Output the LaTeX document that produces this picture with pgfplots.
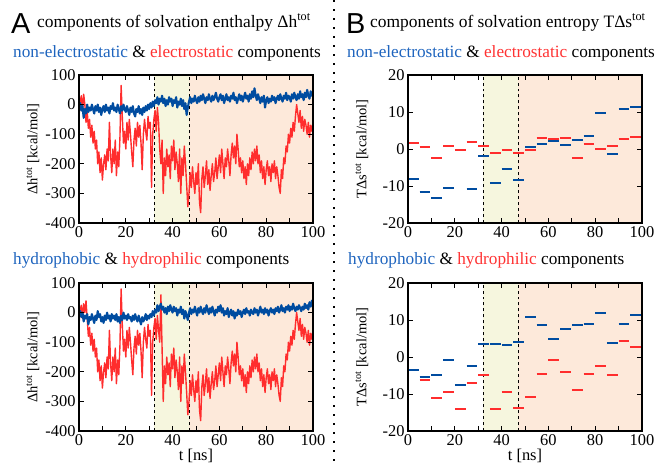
\documentclass[border=0pt]{standalone}
\usepackage{pgfplots}
\pgfplotsset{compat=1.18}
\usepackage{pgfplotstable}
\usepackage{fontspec}
\setmainfont{Liberation Serif}
\setsansfont{Liberation Sans}
\definecolor{redline}{RGB}{255,45,45}
\definecolor{blueline}{RGB}{0,76,160}
\definecolor{bluetxt}{RGB}{30,100,190}
\definecolor{redtxt}{RGB}{255,50,50}
\definecolor{ybg}{RGB}{246,246,222}
\definecolor{obg}{RGB}{253,233,218}

\pgfplotstableread[row sep=\\]{
t v\\
0 -40\\ 0.5 10\\ 1 30\\ 1.5 -20\\ 2 35\\ 2.5 0\\ 3 -60\\ 3.5 -20\\ 4 -80\\ 4.5 -50\\
5 -110\\ 5.5 -70\\ 6 -130\\ 6.5 -90\\ 7 -150\\ 7.5 -120\\ 8 -200\\ 8.5 -160\\ 9 -230\\ 9.5 -180\\
10 -255\\ 10.5 -200\\ 11 -170\\ 11.5 -220\\ 12 -150\\ 12.5 -190\\ 13 -60\\ 13.5 -170\\ 14 -230\\ 14.5 -150\\
15 -200\\ 15.5 -120\\ 16 -240\\ 16.5 -160\\ 17 -210\\ 17.5 -110\\ 18 65\\ 18.5 -40\\ 19 -130\\ 19.5 -90\\
20 -150\\ 20.5 -60\\ 21 -120\\ 21.5 -50\\ 22 -100\\ 22.5 -160\\ 23 -210\\ 23.5 -120\\ 24 -80\\ 24.5 -140\\
25 -60\\ 25.5 -110\\ 26 -70\\ 26.5 -130\\ 27 -220\\ 27.5 -100\\ 28 -50\\ 28.5 -90\\ 29 -120\\ 29.5 -40\\
30 -80\\ 30.5 -60\\ 31 -280\\ 31.5 -100\\ 32 -50\\ 32.5 -20\\ 33 -90\\ 33.5 -10\\ 34 -60\\ 34.5 -150\\
35 -200\\ 35.5 -120\\ 36 -300\\ 36.5 -180\\ 37 -240\\ 37.5 -150\\ 38 -210\\ 38.5 -170\\ 39 -250\\ 39.5 -140\\
40 -190\\ 40.5 -120\\ 41 -220\\ 41.5 -160\\ 42 -200\\ 42.5 -260\\ 43 -150\\ 43.5 -300\\ 44 -180\\ 44.5 -240\\
45 -140\\ 45.5 -200\\ 46 -270\\ 46.5 -345\\ 47 -300\\ 47.5 -230\\ 48 -280\\ 48.5 -210\\ 49 -260\\ 49.5 -300\\
50 -230\\ 50.5 -270\\ 51 -200\\ 51.5 -330\\ 52 -365\\ 52.5 -250\\ 53 -210\\ 53.5 -280\\ 54 -240\\ 54.5 -190\\
55 -270\\ 55.5 -220\\ 56 -290\\ 56.5 -240\\ 57 -200\\ 57.5 -260\\ 58 -230\\ 58.5 -180\\ 59 -250\\ 59.5 -210\\
60 -170\\ 60.5 -230\\ 61 -150\\ 61.5 -200\\ 62 -250\\ 62.5 -180\\ 63 -210\\ 63.5 -150\\ 64 -190\\ 64.5 -240\\
65 -170\\ 65.5 -130\\ 66 -180\\ 66.5 -140\\ 67 -200\\ 67.5 -100\\ 68 -150\\ 68.5 -210\\ 69 -180\\ 69.5 -230\\
70 -190\\ 70.5 -250\\ 71 -210\\ 71.5 -270\\ 72 -200\\ 72.5 -240\\ 73 -180\\ 73.5 -220\\ 74 -160\\ 74.5 -200\\
75 -150\\ 75.5 -190\\ 76 -140\\ 76.5 -200\\ 77 -170\\ 77.5 -230\\ 78 -190\\ 78.5 -250\\ 79 -210\\ 79.5 -270\\
80 -220\\ 80.5 -190\\ 81 -240\\ 81.5 -210\\ 82 -260\\ 82.5 -200\\ 83 -230\\ 83.5 -190\\ 84 -250\\ 84.5 -210\\
85 -240\\ 85.5 -280\\ 86 -300\\ 86.5 -220\\ 87 -250\\ 87.5 -180\\ 88 -200\\ 88.5 -140\\ 89 -160\\ 89.5 -100\\
90 -130\\ 90.5 -80\\ 91 -110\\ 91.5 -60\\ 92 -90\\ 92.5 -40\\ 93 0\\ 93.5 -30\\ 94 -60\\ 94.5 -20\\
95 -80\\ 95.5 -40\\ 96 -90\\ 96.5 -50\\ 97 -70\\ 97.5 -100\\ 98 -60\\ 98.5 -110\\ 99 -70\\ 99.5 -90\\ 100 -60\\
}\redA

\pgfplotstableread[row sep=\\]{
t v\\
0 -40\\ 0.5 10\\ 1 25\\ 1.5 -20\\ 2 30\\ 2.5 0\\ 3 40\\ 3.5 -20\\ 4 -80\\ 4.5 -50\\
5 -110\\ 5.5 -70\\ 6 -130\\ 6.5 -90\\ 7 -150\\ 7.5 -120\\ 8 -200\\ 8.5 -160\\ 9 -230\\ 9.5 -180\\
10 -255\\ 10.5 -200\\ 11 -170\\ 11.5 -220\\ 12 -150\\ 12.5 -190\\ 13 -60\\ 13.5 -170\\ 14 -230\\ 14.5 -150\\
15 -200\\ 15.5 -120\\ 16 -240\\ 16.5 -160\\ 17 -210\\ 17.5 -110\\ 18 80\\ 18.5 -40\\ 19 -130\\ 19.5 -90\\
20 -150\\ 20.5 -60\\ 21 -120\\ 21.5 -50\\ 22 -100\\ 22.5 -160\\ 23 -210\\ 23.5 -120\\ 24 -80\\ 24.5 -140\\
25 -60\\ 25.5 -110\\ 26 -70\\ 26.5 -130\\ 27 -220\\ 27.5 -100\\ 28 -50\\ 28.5 -90\\ 29 -120\\ 29.5 -40\\
30 -80\\ 30.5 -60\\ 31 -280\\ 31.5 -100\\ 32 -50\\ 32.5 -20\\ 33 -90\\ 33.5 -10\\ 34 -60\\ 34.5 -100\\
35 60\\ 35.5 -120\\ 36 -300\\ 36.5 -180\\ 37 -240\\ 37.5 -150\\ 38 -210\\ 38.5 -170\\ 39 -250\\ 39.5 -140\\
40 -190\\ 40.5 -120\\ 41 -220\\ 41.5 -160\\ 42 -200\\ 42.5 -260\\ 43 -150\\ 43.5 -300\\ 44 -180\\ 44.5 -240\\
45 -140\\ 45.5 -200\\ 46 -270\\ 46.5 -345\\ 47 -300\\ 47.5 -230\\ 48 -280\\ 48.5 -210\\ 49 -260\\ 49.5 -300\\
50 -230\\ 50.5 -270\\ 51 -200\\ 51.5 -330\\ 52 -365\\ 52.5 -250\\ 53 -210\\ 53.5 -280\\ 54 -240\\ 54.5 -190\\
55 -270\\ 55.5 -220\\ 56 -290\\ 56.5 -240\\ 57 -200\\ 57.5 -260\\ 58 -230\\ 58.5 -180\\ 59 -250\\ 59.5 -210\\
60 -170\\ 60.5 -230\\ 61 -150\\ 61.5 -200\\ 62 -250\\ 62.5 -180\\ 63 -210\\ 63.5 -150\\ 64 -190\\ 64.5 -240\\
65 -170\\ 65.5 -130\\ 66 -180\\ 66.5 -140\\ 67 -200\\ 67.5 -100\\ 68 -150\\ 68.5 -210\\ 69 -180\\ 69.5 -230\\
70 -190\\ 70.5 -250\\ 71 -210\\ 71.5 -270\\ 72 -200\\ 72.5 -240\\ 73 -180\\ 73.5 -220\\ 74 -160\\ 74.5 -200\\
75 -150\\ 75.5 -190\\ 76 -140\\ 76.5 -200\\ 77 -170\\ 77.5 -230\\ 78 -190\\ 78.5 -250\\ 79 -210\\ 79.5 -270\\
80 -220\\ 80.5 -190\\ 81 -240\\ 81.5 -210\\ 82 -260\\ 82.5 -200\\ 83 -230\\ 83.5 -190\\ 84 -250\\ 84.5 -210\\
85 -240\\ 85.5 -280\\ 86 -300\\ 86.5 -220\\ 87 -250\\ 87.5 -180\\ 88 -200\\ 88.5 -140\\ 89 -160\\ 89.5 -100\\
90 -130\\ 90.5 -80\\ 91 -110\\ 91.5 -60\\ 92 -90\\ 92.5 -40\\ 93 0\\ 93.5 -30\\ 94 -60\\ 94.5 -20\\
95 -80\\ 95.5 -40\\ 96 -90\\ 96.5 -50\\ 97 -70\\ 97.5 -100\\ 98 -60\\ 98.5 -110\\ 99 -70\\ 99.5 -90\\ 100 -60\\
}\redB

\pgfplotstableread[row sep=\\]{
t v\\
0 -10\\ 0.5 5\\ 1 -20\\ 1.5 -5\\ 2 -45\\ 2.5 -15\\ 3 -30\\ 3.5 0\\ 4 -25\\ 4.5 -10\\
5 -20\\ 5.5 0\\ 6 -15\\ 6.5 -30\\ 7 -5\\ 7.5 -20\\ 8 0\\ 8.5 -25\\ 9 -10\\ 9.5 -35\\
10 -15\\ 10.5 -5\\ 11 -25\\ 11.5 0\\ 12 -20\\ 12.5 -10\\ 13 -30\\ 13.5 -5\\ 14 -15\\ 14.5 5\\
15 -20\\ 15.5 -10\\ 16 -25\\ 16.5 0\\ 17 -15\\ 17.5 -30\\ 18 -5\\ 18.5 -20\\ 19 0\\ 19.5 -15\\
20 -25\\ 20.5 -5\\ 21 -20\\ 21.5 -35\\ 22 -10\\ 22.5 -25\\ 23 -5\\ 23.5 -30\\ 24 -40\\ 24.5 -15\\
25 -25\\ 25.5 -5\\ 26 -30\\ 26.5 -15\\ 27 -35\\ 27.5 -10\\ 28 -25\\ 28.5 -5\\ 29 -20\\ 29.5 0\\
30 -15\\ 30.5 5\\ 31 -10\\ 31.5 10\\ 32 -5\\ 32.5 15\\ 33 5\\ 33.5 25\\ 34 0\\ 34.5 20\\
35 10\\ 35.5 30\\ 36 5\\ 36.5 20\\ 37 -5\\ 37.5 15\\ 38 0\\ 38.5 25\\ 39 10\\ 39.5 20\\
40 -5\\ 40.5 15\\ 41 5\\ 41.5 25\\ 42 -10\\ 42.5 10\\ 43 0\\ 43.5 20\\ 44 -5\\ 44.5 15\\
45 -15\\ 45.5 5\\ 46 -35\\ 46.5 -10\\ 47 10\\ 47.5 25\\ 48 5\\ 48.5 20\\ 49 10\\ 49.5 30\\
50 15\\ 50.5 5\\ 51 25\\ 51.5 10\\ 52 30\\ 52.5 15\\ 53 35\\ 53.5 20\\ 54 5\\ 54.5 25\\
55 15\\ 55.5 35\\ 56 20\\ 56.5 10\\ 57 30\\ 57.5 15\\ 58 25\\ 58.5 40\\ 59 20\\ 59.5 10\\
60 25\\ 60.5 35\\ 61 15\\ 61.5 30\\ 62 5\\ 62.5 20\\ 63 35\\ 63.5 15\\ 64 25\\ 64.5 10\\
65 30\\ 65.5 20\\ 66 40\\ 66.5 15\\ 67 25\\ 67.5 5\\ 68 20\\ 68.5 35\\ 69 15\\ 69.5 30\\
70 10\\ 70.5 25\\ 71 40\\ 71.5 20\\ 72 30\\ 72.5 10\\ 73 35\\ 73.5 20\\ 74 45\\ 74.5 25\\
75 55\\ 75.5 30\\ 76 15\\ 76.5 35\\ 77 20\\ 77.5 5\\ 78 25\\ 78.5 10\\ 79 30\\ 79.5 -10\\
80 15\\ 80.5 25\\ 81 5\\ 81.5 20\\ 82 10\\ 82.5 30\\ 83 15\\ 83.5 25\\ 84 5\\ 84.5 20\\
85 30\\ 85.5 15\\ 86 35\\ 86.5 20\\ 87 10\\ 87.5 30\\ 88 20\\ 88.5 40\\ 89 15\\ 89.5 30\\
90 25\\ 90.5 10\\ 91 35\\ 91.5 20\\ 92 40\\ 92.5 25\\ 93 15\\ 93.5 35\\ 94 20\\ 94.5 45\\
95 25\\ 95.5 35\\ 96 15\\ 96.5 40\\ 97 25\\ 97.5 50\\ 98 30\\ 98.5 20\\ 99 45\\ 99.5 30\\ 100 40\\
}\blueA

\pgfplotstableread[row sep=\\]{
t v\\
0 -10\\ 0.5 5\\ 1 -15\\ 1.5 0\\ 2 -30\\ 2.5 -10\\ 3 -20\\ 3.5 -5\\ 4 -40\\ 4.5 -15\\
5 -25\\ 5.5 -5\\ 6 -20\\ 6.5 -35\\ 7 -10\\ 7.5 -25\\ 8 5\\ 8.5 -15\\ 9 -5\\ 9.5 -30\\
10 -15\\ 10.5 -35\\ 11 -10\\ 11.5 -25\\ 12 0\\ 12.5 -20\\ 13 -10\\ 13.5 -30\\ 14 -5\\ 14.5 -20\\
15 -10\\ 15.5 -25\\ 16 -5\\ 16.5 -30\\ 17 -15\\ 17.5 -35\\ 18 -10\\ 18.5 -25\\ 19 0\\ 19.5 -20\\
20 -10\\ 20.5 -25\\ 21 -5\\ 21.5 -20\\ 22 -15\\ 22.5 -30\\ 23 -10\\ 23.5 -25\\ 24 -5\\ 24.5 -20\\
25 -30\\ 25.5 -10\\ 26 -25\\ 26.5 -40\\ 27 -15\\ 27.5 -30\\ 28 -20\\ 28.5 -5\\ 29 -25\\ 29.5 -10\\
30 -20\\ 30.5 -5\\ 31 -15\\ 31.5 5\\ 32 -10\\ 32.5 10\\ 33 0\\ 33.5 25\\ 34 5\\ 34.5 20\\
35 30\\ 35.5 10\\ 36 20\\ 36.5 0\\ 37 15\\ 37.5 -5\\ 38 20\\ 38.5 5\\ 39 25\\ 39.5 10\\
40 0\\ 40.5 20\\ 41 5\\ 41.5 15\\ 42 -10\\ 42.5 10\\ 43 0\\ 43.5 20\\ 44 -5\\ 44.5 10\\
45 -20\\ 45.5 5\\ 46 -10\\ 46.5 -25\\ 47 0\\ 47.5 15\\ 48 -5\\ 48.5 10\\ 49 0\\ 49.5 20\\
50 5\\ 50.5 -10\\ 51 15\\ 51.5 0\\ 52 20\\ 52.5 5\\ 53 -5\\ 53.5 15\\ 54 0\\ 54.5 25\\
55 10\\ 55.5 -5\\ 56 15\\ 56.5 0\\ 57 20\\ 57.5 5\\ 58 -10\\ 58.5 10\\ 59 0\\ 59.5 20\\
60 5\\ 60.5 25\\ 61 0\\ 61.5 15\\ 62 -10\\ 62.5 5\\ 63 -5\\ 63.5 15\\ 64 -15\\ 64.5 0\\
65 10\\ 65.5 -10\\ 66 5\\ 66.5 -20\\ 67 0\\ 67.5 -10\\ 68 10\\ 68.5 -5\\ 69 5\\ 69.5 -15\\
70 0\\ 70.5 10\\ 71 -5\\ 71.5 15\\ 72 0\\ 72.5 5\\ 73 -10\\ 73.5 10\\ 74 0\\ 74.5 -5\\
75 15\\ 75.5 0\\ 76 10\\ 76.5 -10\\ 77 5\\ 77.5 20\\ 78 0\\ 78.5 10\\ 79 -5\\ 79.5 15\\
80 0\\ 80.5 10\\ 81 -10\\ 81.5 5\\ 82 15\\ 82.5 0\\ 83 10\\ 83.5 -5\\ 84 15\\ 84.5 5\\
85 20\\ 85.5 0\\ 86 10\\ 86.5 25\\ 87 5\\ 87.5 15\\ 88 0\\ 88.5 20\\ 89 10\\ 89.5 25\\
90 5\\ 90.5 20\\ 91 10\\ 91.5 30\\ 92 15\\ 92.5 5\\ 93 20\\ 93.5 10\\ 94 25\\ 94.5 15\\
95 5\\ 95.5 20\\ 96 10\\ 96.5 30\\ 97 15\\ 97.5 25\\ 98 10\\ 98.5 35\\ 99 20\\ 99.5 40\\ 100 30\\
}\blueB

% right panels: each 5 ns block is a short level segment, split by nan
\pgfplotstableread[row sep=\\]{
t v\\
0 1.5\\ 4.6 1.5\\ 4.8 nan\\ 5 0.5\\ 9.6 0.5\\ 9.8 nan\\ 10 -2.4\\ 14.6 -2.4\\ 14.8 nan\\ 15 0.8\\ 19.6 0.8\\ 19.8 nan\\
20 -0.4\\ 24.6 -0.4\\ 24.8 nan\\ 25 2.0\\ 29.6 2.0\\ 29.8 nan\\ 30 0.8\\ 34.6 0.8\\ 34.8 nan\\ 35 -1.1\\ 39.6 -1.1\\ 39.8 nan\\
40 -0.4\\ 44.6 -0.4\\ 44.8 nan\\ 45 -1.1\\ 49.6 -1.1\\ 49.8 nan\\ 50 -0.2\\ 54.6 -0.2\\ 54.8 nan\\ 55 3.1\\ 59.6 3.1\\ 59.8 nan\\
60 2.6\\ 64.6 2.6\\ 64.8 nan\\ 65 3.0\\ 69.6 3.0\\ 69.8 nan\\ 70 -2.4\\ 74.6 -2.4\\ 74.8 nan\\ 75 1.3\\ 79.6 1.3\\ 79.8 nan\\
80 0.0\\ 84.6 0.0\\ 84.8 nan\\ 85 0.7\\ 89.6 0.7\\ 89.8 nan\\ 90 2.7\\ 94.6 2.7\\ 94.8 nan\\ 95 3.2\\ 99.6 3.2\\
}\redC
\pgfplotstableread[row sep=\\]{
t v\\
0 -8.0\\ 4.6 -8.0\\ 4.8 nan\\ 5 -11.7\\ 9.6 -11.7\\ 9.8 nan\\ 10 -13.3\\ 14.6 -13.3\\ 14.8 nan\\ 15 -10.6\\ 19.6 -10.6\\ 19.8 nan\\
25 -10.9\\ 29.6 -10.9\\ 29.8 nan\\ 30 -1.8\\ 34.6 -1.8\\ 34.8 nan\\ 35 -9.1\\ 39.6 -9.1\\ 39.8 nan\\
40 -5.5\\ 44.6 -5.5\\ 44.8 nan\\ 45 -8.4\\ 49.6 -8.4\\ 49.8 nan\\ 50 0.6\\ 54.6 0.6\\ 54.8 nan\\ 55 1.3\\ 59.6 1.3\\ 59.8 nan\\
60 2.2\\ 64.6 2.2\\ 64.8 nan\\ 65 1.1\\ 69.6 1.1\\ 69.8 nan\\ 70 2.4\\ 74.6 2.4\\ 74.8 nan\\ 75 3.4\\ 79.6 3.4\\ 79.8 nan\\
80 9.7\\ 84.6 9.7\\ 84.8 nan\\ 85 -1.3\\ 89.6 -1.3\\ 89.8 nan\\ 90 10.8\\ 94.6 10.8\\ 94.8 nan\\ 95 11.4\\ 99.6 11.4\\
}\blueC
\pgfplotstableread[row sep=\\]{
t v\\
0 -3.5\\ 4.6 -3.5\\ 4.8 nan\\ 5 -6.1\\ 9.6 -6.1\\ 9.8 nan\\ 10 -11.1\\ 14.6 -11.1\\ 14.8 nan\\ 15 -9.4\\ 19.6 -9.4\\ 19.8 nan\\
20 -14.1\\ 24.6 -14.1\\ 24.8 nan\\ 25 -6.9\\ 29.6 -6.9\\ 29.8 nan\\ 30 -4.8\\ 34.6 -4.8\\ 34.8 nan\\ 35 -14.1\\ 39.6 -14.1\\ 39.8 nan\\
40 -9.5\\ 44.6 -9.5\\ 44.8 nan\\ 45 -13.9\\ 49.6 -13.9\\ 49.8 nan\\ 50 -10.8\\ 54.6 -10.8\\ 54.8 nan\\ 55 -4.6\\ 59.6 -4.6\\ 59.8 nan\\
60 -0.7\\ 64.6 -0.7\\ 64.8 nan\\ 65 -4.0\\ 69.6 -4.0\\ 69.8 nan\\ 70 -8.9\\ 74.6 -8.9\\ 74.8 nan\\ 75 -4.6\\ 79.6 -4.6\\ 79.8 nan\\
80 -2.5\\ 84.6 -2.5\\ 84.8 nan\\ 85 -4.8\\ 89.6 -4.8\\ 89.8 nan\\ 90 4.2\\ 94.6 4.2\\ 94.8 nan\\ 95 2.7\\ 99.6 2.7\\
}\redD
\pgfplotstableread[row sep=\\]{
t v\\
0 -3.4\\ 4.6 -3.4\\ 4.8 nan\\ 5 -5.3\\ 9.6 -5.3\\ 9.8 nan\\ 10 -4.9\\ 14.6 -4.9\\ 14.8 nan\\ 15 -0.8\\ 19.6 -0.8\\ 19.8 nan\\
20 -7.6\\ 24.6 -7.6\\ 24.8 nan\\ 25 -2.3\\ 29.6 -2.3\\ 29.8 nan\\ 30 3.4\\ 34.6 3.4\\ 34.8 nan\\ 35 3.6\\ 39.6 3.6\\ 39.8 nan\\
40 3.2\\ 44.6 3.2\\ 44.8 nan\\ 45 4.1\\ 49.6 4.1\\ 49.8 nan\\ 50 10.7\\ 54.6 10.7\\ 54.8 nan\\ 55 8.6\\ 59.6 8.6\\ 59.8 nan\\
60 5.0\\ 64.6 5.0\\ 64.8 nan\\ 65 7.7\\ 69.6 7.7\\ 69.8 nan\\ 70 8.6\\ 74.6 8.6\\ 74.8 nan\\ 75 9.0\\ 79.6 9.0\\ 79.8 nan\\
80 11.8\\ 84.6 11.8\\ 84.8 nan\\ 85 3.9\\ 89.6 3.9\\ 89.8 nan\\ 90 8.8\\ 94.6 8.8\\ 94.8 nan\\ 95 11.4\\ 99.6 11.4\\
}\blueD

\pgfplotsset{
  panel/.style={scale only axis, width=234bp, height=148bp, xmin=0, xmax=100,
    xtick={0,20,...,100}, minor xtick={10,30,50,70,90},
    tick align=inside, major tick length=5bp, minor tick length=5bp,
    axis line style={line width=1.1pt},
    tick style={line width=0.7pt, black},
    ticklabel style={font=\fontsize{16.5}{16.5}\selectfont},
    /pgf/number format/assume math mode=true,
    axis on top,
    ylabel style={font=\fontsize{14.5}{14.5}\selectfont, at={(axis description cs:-0.197,0.5)}, anchor=center},
    xlabel style={font=\fontsize{16.5}{16.5}\selectfont, at={(axis description cs:0.5,0)}, anchor=base, yshift=-29bp},
    anchor=north west},
  hpanel/.style={panel, ymin=-400, ymax=100, ytick={-400,-300,...,100},
    ylabel={Δh\textsuperscript{tot} [kcal/mol]}},
  spanel/.style={panel, ymin=-20, ymax=20, ytick={-20,-10,...,20},
    ylabel={TΔs\textsuperscript{tot} [kcal/mol]}},
  seg/.style={draw=#1, line width=2bp, mark=none, unbounded coords=jump}
}

\begin{document}
\begin{tikzpicture}
\useasboundingbox (0,0) rectangle (658bp,-464bp);

% separator
\draw[line width=2.2bp, dash pattern=on 2.2bp off 6.8bp] (334bp,0) -- (334bp,-464bp);

% titles
\node[anchor=base west, inner sep=0] at (11bp,-33bp) {\sffamily\fontsize{29}{29}\selectfont A};
\node[anchor=base west, inner sep=0] at (37bp,-27bp) {\fontsize{17.5}{17.5}\selectfont components of solvation enthalpy Δh\textsuperscript{tot}};
\node[anchor=base west, inner sep=0] at (13bp,-57bp) {\fontsize{17.3}{17.3}\selectfont {\color{bluetxt}non-electrostatic} \& {\color{redtxt}electrostatic} components};
\node[anchor=base west, inner sep=0] at (13bp,-264bp) {\fontsize{17.3}{17.3}\selectfont {\color{bluetxt}hydrophobic} \& {\color{redtxt}hydrophilic} components};

\node[anchor=base west, inner sep=0] at (346bp,-33bp) {\sffamily\fontsize{29}{29}\selectfont B};
\node[anchor=base west, inner sep=0] at (370bp,-27bp) {\fontsize{17.5}{17.5}\selectfont components of solvation entropy TΔs\textsuperscript{tot}};
\node[anchor=base west, inner sep=0] at (347bp,-57bp) {\fontsize{17.3}{17.3}\selectfont {\color{bluetxt}non-electrostatic} \& {\color{redtxt}electrostatic} components};
\node[anchor=base west, inner sep=0] at (348bp,-264bp) {\fontsize{17.3}{17.3}\selectfont {\color{bluetxt}hydrophobic} \& {\color{redtxt}hydrophilic} components};

% top left
\begin{axis}[hpanel, at={(79bp,-75bp)}]
\addplot[draw=none, fill=ybg] coordinates {(32,-400) (47,-400) (47,100) (32,100)} -- cycle;
\addplot[draw=none, fill=obg] coordinates {(47,-400) (100,-400) (100,100) (47,100)} -- cycle;
\addplot[black, dashed, line width=0.6pt] coordinates {(32,-400) (32,100)};
\addplot[black, dashed, line width=0.6pt] coordinates {(47,-400) (47,100)};
\addplot[redline, line width=1.4pt, line join=round] table[x=t, y=v] {\redA};
\addplot[blueline, line width=2.1pt, line join=round] table[x=t, y=v] {\blueA};
\end{axis}

% bottom left
\begin{axis}[hpanel, at={(79bp,-283bp)}, xlabel={t [ns]}]
\addplot[draw=none, fill=ybg] coordinates {(32,-400) (47,-400) (47,100) (32,100)} -- cycle;
\addplot[draw=none, fill=obg] coordinates {(47,-400) (100,-400) (100,100) (47,100)} -- cycle;
\addplot[black, dashed, line width=0.6pt] coordinates {(32,-400) (32,100)};
\addplot[black, dashed, line width=0.6pt] coordinates {(47,-400) (47,100)};
\addplot[redline, line width=1.4pt, line join=round] table[x=t, y=v] {\redB};
\addplot[blueline, line width=2.1pt, line join=round] table[x=t, y=v] {\blueB};
\end{axis}

% top right
\begin{axis}[spanel, at={(408bp,-75bp)}]
\addplot[draw=none, fill=ybg] coordinates {(32,-20) (47,-20) (47,20) (32,20)} -- cycle;
\addplot[draw=none, fill=obg] coordinates {(47,-20) (100,-20) (100,20) (47,20)} -- cycle;
\addplot[black, dashed, line width=0.6pt] coordinates {(32,-20) (32,20)};
\addplot[black, dashed, line width=0.6pt] coordinates {(47,-20) (47,20)};
\addplot[seg=redline] table[x=t, y=v] {\redC};
\addplot[seg=blueline] table[x=t, y=v] {\blueC};
\end{axis}

% bottom right
\begin{axis}[spanel, at={(408bp,-283bp)}, xlabel={t [ns]}]
\addplot[draw=none, fill=ybg] coordinates {(32,-20) (47,-20) (47,20) (32,20)} -- cycle;
\addplot[draw=none, fill=obg] coordinates {(47,-20) (100,-20) (100,20) (47,20)} -- cycle;
\addplot[black, dashed, line width=0.6pt] coordinates {(32,-20) (32,20)};
\addplot[black, dashed, line width=0.6pt] coordinates {(47,-20) (47,20)};
\addplot[seg=redline] table[x=t, y=v] {\redD};
\addplot[seg=blueline] table[x=t, y=v] {\blueD};
\end{axis}
\end{tikzpicture}
\end{document}
